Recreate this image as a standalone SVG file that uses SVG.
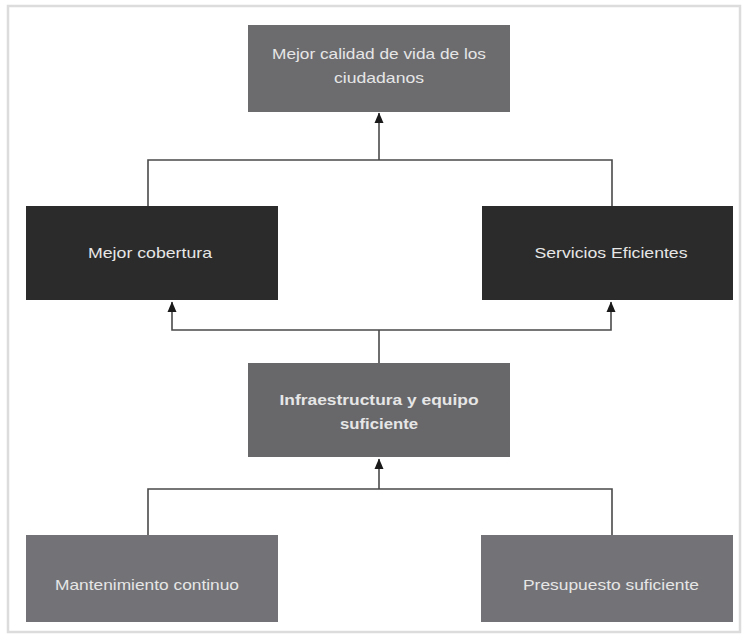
<svg xmlns="http://www.w3.org/2000/svg" width="744" height="637" viewBox="0 0 744 637">
<defs>
<style>
.t{font-family:"Liberation Sans",Arial,sans-serif;font-size:15px;fill:#e6e6e6;text-anchor:middle}
.b{font-weight:bold}
.c{fill:none;stroke:#4a4a4a;stroke-width:1.6}
</style>
<marker id="ah" markerWidth="11" markerHeight="10" refX="10" refY="5" orient="auto-start-reverse" markerUnits="userSpaceOnUse" viewBox="0 0 11 10">
<path d="M0,0.5 L10.5,5 L0,9.5 Z" fill="#1a1a1a"/>
</marker>
</defs>
<rect x="0" y="0" width="744" height="637" fill="#ffffff"/>
<rect x="8" y="6" width="732" height="626" fill="none" stroke="#dcdcdc" stroke-width="2.5"/>
<g id="connectors">
<path class="c" d="M148,206 V160 H612 V206"/>
<path class="c" d="M379,160 V113" marker-end="url(#ah)"/>
<path class="c" d="M172,302 V330 H611 V302" marker-start="url(#ah)" marker-end="url(#ah)"/>
<path class="c" d="M379,330 V363"/>
<path class="c" d="M148,535 V489 H612 V535"/>
<path class="c" d="M379,489 V459" marker-end="url(#ah)"/>
</g>
<g id="n1">
<rect x="248" y="25" width="262" height="87" fill="#6c6c6f"/>
<text class="t" x="379" y="59" textLength="214" lengthAdjust="spacingAndGlyphs">Mejor calidad de vida de los</text>
<text class="t" x="379" y="83" textLength="90" lengthAdjust="spacingAndGlyphs">ciudadanos</text>
</g>
<g id="n2">
<rect x="26" y="206" width="252" height="94" fill="#2b2b2b"/>
<text class="t" x="150" y="258" textLength="124" lengthAdjust="spacingAndGlyphs">Mejor cobertura</text>
</g>
<g id="n3">
<rect x="482" y="206" width="251" height="94" fill="#2b2b2b"/>
<text class="t" x="611" y="258" textLength="153" lengthAdjust="spacingAndGlyphs">Servicios Eficientes</text>
</g>
<g id="n4">
<rect x="248" y="363" width="262" height="94" fill="#68686b"/>
<text class="t b" x="379" y="405" textLength="199" lengthAdjust="spacingAndGlyphs">Infraestructura y equipo</text>
<text class="t b" x="379" y="429" textLength="78" lengthAdjust="spacingAndGlyphs">suficiente</text>
</g>
<g id="n5">
<rect x="26" y="535" width="252" height="87" fill="#737377"/>
<text class="t" x="147" y="590" textLength="184" lengthAdjust="spacingAndGlyphs">Mantenimiento continuo</text>
</g>
<g id="n6">
<rect x="481" y="535" width="252" height="87" fill="#737377"/>
<text class="t" x="611" y="590" textLength="176" lengthAdjust="spacingAndGlyphs">Presupuesto suficiente</text>
</g>
</svg>
